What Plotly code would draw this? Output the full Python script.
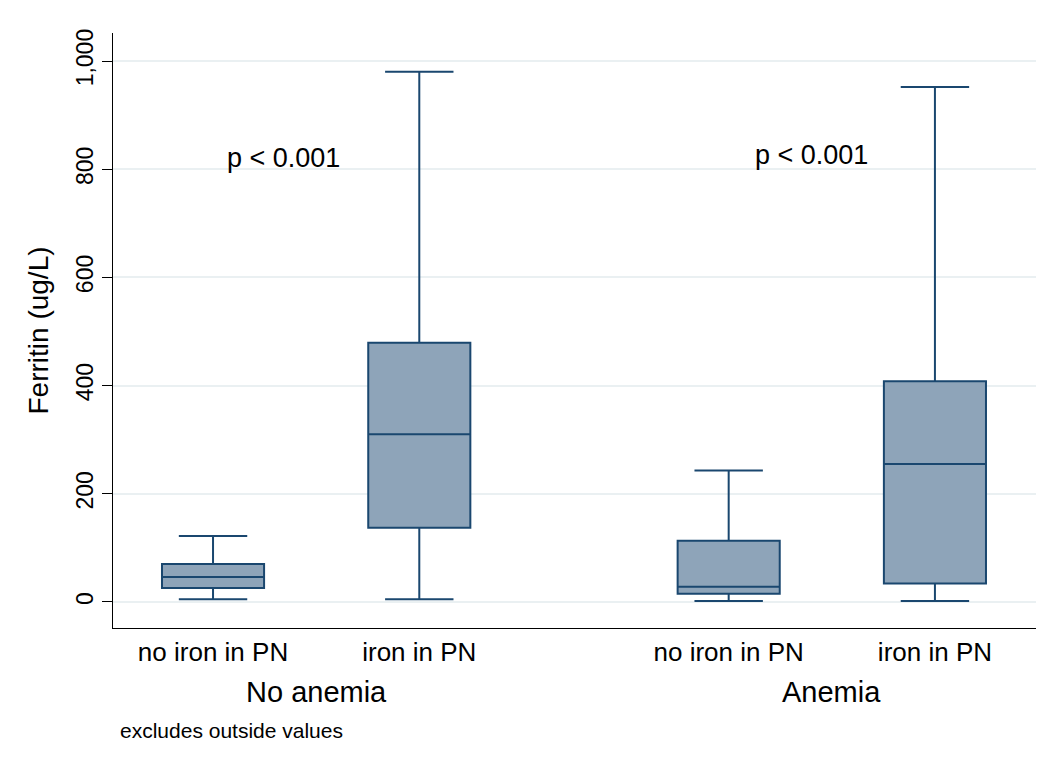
import plotly.graph_objects as go

# ---- data ----
groups = ["No anemia", "Anemia"]
categories = ["no iron in PN", "iron in PN", "no iron in PN", "iron in PN"]
positions = [1, 2, 3.5, 4.5]
group_centers = [1.5, 4.0]
lower_adj = [5, 5, 2, 2]
q1_vals = [26, 137, 15, 34]
median_vals = [46, 310, 28, 255]
q3_vals = [70, 479, 113, 408]
upper_adj = [122, 980, 243, 952]
p_labels = ["p < 0.001", "p < 0.001"]
p_x = [1.34, 3.9]
p_y = [820, 826]
y_ticks = [0, 200, 400, 600, 800, 1000]
y_ticktext = ["0", "200", "400", "600", "800", "1,000"]

FONT = "Liberation Sans, Arial, Helvetica, sans-serif"
LINE = "#1a476f"
FILL = "#8ea4b9"
GRID = "#eaf0f2"

fig = go.Figure()
fig.add_trace(go.Box(
    x=positions,
    q1=q1_vals, median=median_vals, q3=q3_vals,
    lowerfence=lower_adj, upperfence=upper_adj,
    width=0.495,
    whiskerwidth=0.67,
    fillcolor=FILL,
    line=dict(color=LINE, width=2),
    boxpoints=False,
    showlegend=False,
    hoverinfo="skip",
))

annotations = []
for t, x, y in zip(p_labels, p_x, p_y):
    annotations.append(dict(x=x, y=y, xref="x", yref="y", text=t, showarrow=False,
                            font=dict(family=FONT, size=27, color="black"),
                            xanchor="center", yanchor="middle"))
for g, x in zip(groups, group_centers):
    annotations.append(dict(x=x, y=-0.108, xref="x", yref="paper", text=g, showarrow=False,
                            font=dict(family=FONT, size=29, color="black"),
                            xanchor="center", yanchor="middle"))
annotations.append(dict(x=0.0054, y=-0.173, xref="paper", yref="paper",
                        text="excludes outside values", showarrow=False,
                        font=dict(family=FONT, size=21, color="black"),
                        xanchor="left", yanchor="middle"))

fig.update_layout(
    width=1051, height=770,
    margin=dict(l=105, r=23, t=25, b=150),
    paper_bgcolor="white", plot_bgcolor="white",
    font=dict(family=FONT, color="black"),
    annotations=annotations,
    shapes=[dict(type="rect", xref="paper", yref="paper",
                 x0=-0.1148, x1=1.2, y0=-0.4, y1=1.0437,
                 line=dict(color="#e6ecee", width=1.5), layer="below")],
    xaxis=dict(
        range=[0.515, 4.99],
        tickvals=positions, ticktext=categories,
        tickfont=dict(family=FONT, size=26, color="black"),
        showgrid=False, zeroline=False,
        showline=True, linecolor="black", linewidth=1.2,
        ticks="", ticklabelstandoff=1,
    ),
    yaxis=dict(
        range=[-48.1, 1051.8],
        tickvals=y_ticks, ticktext=y_ticktext,
        tickangle=-90,
        tickfont=dict(family=FONT, size=23, color="black"),
        ticks="outside", ticklen=10, tickcolor="black", tickwidth=1.2,
        showgrid=True, gridcolor=GRID, gridwidth=1.5,
        zeroline=False,
        showline=True, linecolor="black", linewidth=1.2,
        title=dict(text="Ferritin (ug/L)", font=dict(family=FONT, size=28, color="black"),
                   standoff=14),
    ),
)

fig.write_html("out.html")
